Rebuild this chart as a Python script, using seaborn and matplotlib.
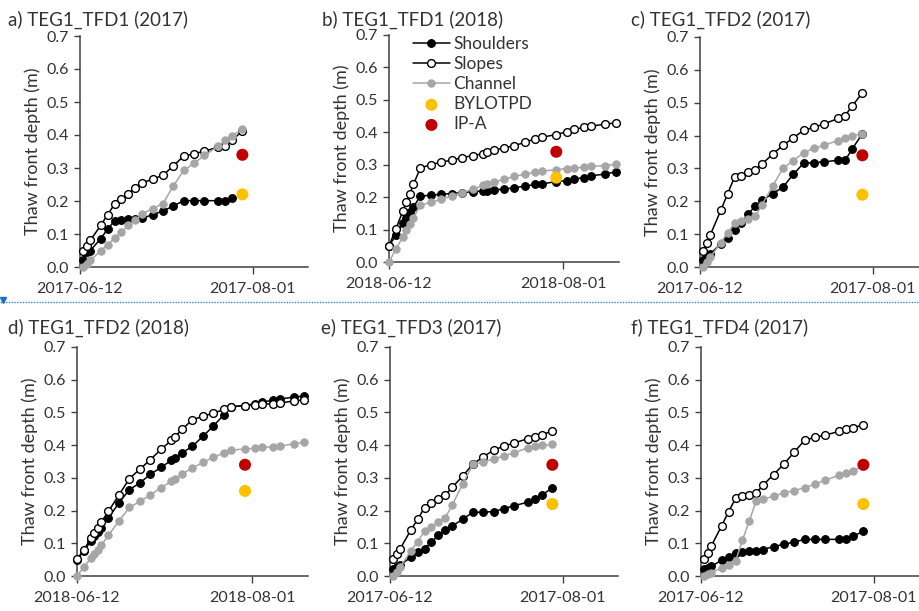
import numpy as np
import pandas as pd
import matplotlib.pyplot as plt
from matplotlib.lines import Line2D
import seaborn as sns

# sampling dates
dates_2017 = ['2017-06-13', '2017-06-14', '2017-06-15', '2017-06-18', '2017-06-20',
              '2017-06-22', '2017-06-24', '2017-06-26', '2017-06-28', '2017-06-30',
              '2017-07-03', '2017-07-06', '2017-07-09', '2017-07-12', '2017-07-15',
              '2017-07-18', '2017-07-22', '2017-07-24', '2017-07-26', '2017-07-29']
dates_2018 = ['2018-06-12', '2018-06-14', '2018-06-16', '2018-06-17', '2018-06-18',
              '2018-06-19', '2018-06-21', '2018-06-24', '2018-06-27', '2018-06-30',
              '2018-07-03', '2018-07-06', '2018-07-09', '2018-07-10', '2018-07-12',
              '2018-07-15', '2018-07-18', '2018-07-21', '2018-07-24', '2018-07-26',
              '2018-07-30', '2018-08-02', '2018-08-04', '2018-08-07', '2018-08-09',
              '2018-08-13', '2018-08-16']
nan = np.nan

# a) TEG1_TFD1 (2017)
a_shoulders = [0.02, 0.045, 0.05, 0.086, 0.115, 0.14, 0.142, 0.144, 0.145, 0.147,
               0.159, 0.169, 0.185, 0.201, 0.201, 0.201, 0.201, 0.201, 0.209, nan]
a_slopes = [0.05, 0.063, 0.081, 0.126, 0.159, 0.19, 0.205, 0.222, 0.24, 0.255,
            0.266, 0.278, 0.306, 0.336, 0.343, 0.351, 0.363, 0.367, 0.384, 0.412]
a_channel = [0.0, 0.008, 0.02, 0.049, 0.068, 0.087, 0.106, 0.126, 0.142, 0.161,
             0.177, 0.192, 0.245, 0.293, 0.314, 0.338, 0.366, 0.384, 0.398, 0.417]

# b) TEG1_TFD1 (2018)
b_shoulders = [0.05, 0.082, 0.12, 0.137, 0.153, 0.17, 0.203, 0.206, 0.209, 0.211,
               0.214, 0.217, 0.219, 0.22, 0.222, 0.225, 0.229, 0.234, 0.239, 0.241,
               0.248, 0.251, 0.256, 0.26, 0.266, 0.271, 0.278]
b_slopes = [0.049, 0.103, 0.158, 0.185, 0.211, 0.239, 0.29, 0.30, 0.308, 0.314,
            0.322, 0.328, 0.334, 0.34, 0.344, 0.352, 0.359, 0.369, 0.38, 0.385,
            0.393, 0.402, 0.409, 0.415, 0.419, 0.425, 0.429]
b_channel = [0.0, 0.041, 0.077, 0.098, 0.116, 0.136, 0.175, 0.184, 0.193, 0.204,
             0.214, 0.224, 0.236, 0.24, 0.247, 0.255, 0.264, 0.271, 0.277, 0.28,
             0.285, 0.288, 0.29, 0.292, 0.295, 0.297, 0.301]

# c) TEG1_TFD2 (2017)
c_shoulders = [0.022, 0.03, 0.04, 0.071, 0.089, 0.112, 0.135, 0.162, 0.186, 0.203,
               0.223, 0.243, 0.282, 0.316, 0.318, 0.32, 0.325, 0.325, 0.358, 0.406]
c_slopes = [0.049, 0.074, 0.098, 0.172, 0.223, 0.274, 0.278, 0.288, 0.296, 0.314,
            0.343, 0.37, 0.393, 0.416, 0.425, 0.436, 0.452, 0.461, 0.489, 0.53]
c_channel = [0.0, 0.015, 0.03, 0.074, 0.104, 0.134, 0.14, 0.147, 0.154, 0.19,
             0.246, 0.3, 0.324, 0.348, 0.361, 0.371, 0.385, 0.394, 0.4, 0.406]

# d) TEG1_TFD2 (2018)
d_shoulders = [0.05, 0.077, 0.108, 0.122, 0.133, 0.148, 0.177, 0.224, 0.264, 0.285,
               0.311, 0.332, 0.354, 0.362, 0.376, 0.397, 0.427, 0.459, 0.493, 0.517,
               0.521, 0.527, 0.532, 0.537, 0.541, 0.547, 0.55]
d_slopes = [0.051, 0.081, 0.115, 0.132, 0.147, 0.166, 0.198, 0.248, 0.298, 0.327,
            0.356, 0.387, 0.415, 0.426, 0.448, 0.478, 0.488, 0.498, 0.509, 0.517,
            0.521, 0.524, 0.525, 0.527, 0.529, 0.535, 0.539]
d_channel = [0.0, 0.028, 0.054, 0.067, 0.081, 0.095, 0.125, 0.168, 0.21, 0.228,
             0.248, 0.27, 0.29, 0.297, 0.311, 0.331, 0.347, 0.363, 0.376, 0.385,
             0.388, 0.391, 0.393, 0.395, 0.397, 0.404, 0.409]

# e) TEG1_TFD3 (2017)
e_shoulders = [0.02, 0.028, 0.034, 0.057, 0.072, 0.084, 0.104, 0.124, 0.14, 0.153,
               0.173, 0.195, 0.195, 0.197, 0.206, 0.215, 0.226, 0.234, 0.247, 0.27]
e_slopes = [0.051, 0.067, 0.084, 0.14, 0.173, 0.209, 0.222, 0.234, 0.247, 0.271,
            0.305, 0.342, 0.364, 0.385, 0.397, 0.407, 0.42, 0.425, 0.432, 0.443]
e_channel = [0.0, 0.013, 0.028, 0.076, 0.105, 0.137, 0.149, 0.165, 0.178, 0.217,
             0.28, 0.341, 0.348, 0.358, 0.367, 0.377, 0.392, 0.397, 0.399, 0.402]

# f) TEG1_TFD4 (2017)
f_shoulders = [0.02, 0.025, 0.03, 0.048, 0.059, 0.069, 0.073, 0.075, 0.077, 0.081,
               0.09, 0.097, 0.104, 0.112, 0.112, 0.112, 0.112, 0.112, 0.121, 0.137]
f_slopes = [0.051, 0.071, 0.092, 0.154, 0.197, 0.237, 0.244, 0.249, 0.254, 0.278,
            0.31, 0.342, 0.379, 0.415, 0.424, 0.431, 0.442, 0.449, 0.453, 0.462]
f_channel = [0.0, 0.006, 0.01, 0.025, 0.034, 0.045, 0.11, 0.169, 0.23, 0.235,
             0.244, 0.254, 0.261, 0.27, 0.281, 0.293, 0.308, 0.315, 0.321, 0.337]

# single-site reference values
titles = ['a) TEG1_TFD1 (2017)', 'b) TEG1_TFD1 (2018)', 'c) TEG1_TFD2 (2017)',
          'd) TEG1_TFD2 (2018)', 'e) TEG1_TFD3 (2017)', 'f) TEG1_TFD4 (2017)']
years = [2017, 2018, 2017, 2018, 2017, 2017]
site_dates = ['2017-07-29', '2018-07-30', '2017-07-29', '2018-07-30', '2017-07-29', '2017-07-29']
bylotpd = [0.22, 0.26, 0.22, 0.26, 0.22, 0.22]
ip_a = [0.34, 0.34, 0.34, 0.34, 0.34, 0.34]

shoulders = [a_shoulders, b_shoulders, c_shoulders, d_shoulders, e_shoulders, f_shoulders]
slopes = [a_slopes, b_slopes, c_slopes, d_slopes, e_slopes, f_slopes]
channel = [a_channel, b_channel, c_channel, d_channel, e_channel, f_channel]

sns.set_theme(style='ticks')
plt.rcParams['font.family'] = ['Lato', 'DejaVu Sans']
txt = '#333333'
plt.rcParams.update({'axes.edgecolor': '#404040', 'xtick.color': '#404040',
                     'ytick.color': '#404040', 'xtick.labelcolor': txt,
                     'ytick.labelcolor': txt})

W, H = 920, 611
fig = plt.figure(figsize=(W / 100, H / 100), dpi=100)

# axes boxes in pixels: left, bottom, top, width
boxes = [(80, 267, 36, 228), (389, 262, 35, 230), (700, 267, 37, 228),
         (77, 576, 347, 231), (390, 576, 347, 228), (701, 576, 347, 228)]
title_pos = [(8, 20), (322, 20), (631, 20), (8, 328), (321, 328), (631, 328)]

GOLD = '#FFC000'
RED = '#C00000'
GREY = '#A6A6A6'

for i in range(6):
    l, b, t, w = boxes[i]
    ax = fig.add_axes([l / W, 1 - b / H, w / W, (b - t) / H])
    yr = years[i]
    dts = pd.to_datetime(dates_2017 if yr == 2017 else dates_2018)

    series = [
        (shoulders[i], 'Shoulders', dict(color='black', marker='o', markersize=5.6,
                                          markerfacecolor='black', markeredgecolor='black')),
        (slopes[i], 'Slopes', dict(color='black', marker='o', markersize=5.6,
                                    markerfacecolor='white', markeredgecolor='black',
                                    markeredgewidth=1.0)),
        (channel[i], 'Channel', dict(color=GREY, marker='o', markersize=5.3,
                                      markerfacecolor=GREY, markeredgecolor=GREY)),
    ]
    for vals, name, kw in series:
        df = pd.DataFrame({'date': dts, 'depth': vals}).dropna()
        sns.lineplot(data=df, x='date', y='depth', ax=ax, linewidth=1.1,
                     label=name, clip_on=False, zorder=3, **kw)

    sd = pd.to_datetime([site_dates[i]])
    sns.scatterplot(x=sd, y=[bylotpd[i]], ax=ax, color=GOLD, s=75, edgecolor='none',
                    label='BYLOTPD', zorder=4)
    sns.scatterplot(x=sd, y=[ip_a[i]], ax=ax, color=RED, s=75, edgecolor='none',
                    label='IP-A', zorder=4)

    start = pd.Timestamp(f'{yr}-06-12')
    aug1 = pd.Timestamp(f'{yr}-08-01')
    ax.set_xlim(start, start + pd.Timedelta(days=66))
    ax.set_ylim(0, 0.7)
    ax.set_xticks([start, aug1])
    ax.set_xticklabels([start.strftime('%Y-%m-%d'), aug1.strftime('%Y-%m-%d')])
    ax.set_yticks(np.arange(0, 0.71, 0.1))
    ax.set_yticklabels([f'{v:.1f}' for v in np.arange(0, 0.71, 0.1)])
    ax.tick_params(axis='both', labelsize=11.5, length=5, width=1, pad=6)
    ax.tick_params(axis='y', length=4, pad=4)
    ax.set_xlabel('')
    ax.set_ylabel('Thaw front depth (m)', fontsize=13, color=txt, labelpad=4)
    sns.despine(ax=ax)
    for s in ['left', 'bottom']:
        ax.spines[s].set_linewidth(1.1)

    if i == 1:
        ax.legend(loc='upper left', bbox_to_anchor=(0.075, 1.027), frameon=False,
                  fontsize=12.5, handlelength=2.1, handletextpad=0.2,
                  labelspacing=0.24, borderaxespad=0, labelcolor=txt)
    else:
        ax.get_legend().remove()

    fig.text(title_pos[i][0] / W, 1 - title_pos[i][1] / H, titles[i],
             fontsize=13.5, color=txt, ha='left', va='center')

# dotted separator from the source page
fig.add_artist(Line2D([0, 1], [1 - 302 / H, 1 - 302 / H], transform=fig.transFigure,
                      color='#2E86DE', linestyle=(0, (1, 1)), linewidth=1))
fig.add_artist(Line2D([3 / W], [1 - 300 / H], transform=fig.transFigure,
                      color='#1F6FC5', marker='v', markersize=4, linestyle='none'))

fig.savefig('out.png', dpi=100)
